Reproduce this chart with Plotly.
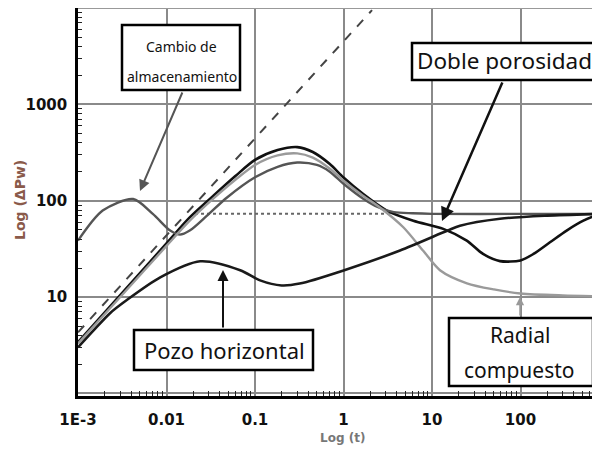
import plotly.graph_objects as go

# ---------------- data ----------------
t_doble = [0.001, 0.003, 0.01, 0.0183, 0.0337, 0.06, 0.1, 0.18, 0.3, 0.45, 0.7, 1.0, 1.67, 3.08, 6.15, 13.4,
           24.7, 37.7, 58.6, 100, 140, 215, 332, 513, 790]
v_doble = [3.4, 10.5, 36, 67, 112, 180, 265, 335, 360, 320, 240, 174, 117, 79, 62, 51,
           38.5, 28, 23.6, 24, 28, 37, 49, 62, 73]

t_radial = [0.001, 0.003, 0.01, 0.0183, 0.0337, 0.06, 0.1, 0.18, 0.3, 0.45, 0.7, 1.0, 1.67, 2.58, 4.74, 8,
            12.3, 24.8, 50, 100, 300, 790]
v_radial = [3.3, 10, 34, 62, 105, 165, 235, 295, 310, 280, 215, 161, 112, 85, 53, 30,
            19, 13.9, 12, 10.9, 10.4, 10.2]

t_alm = [0.001, 0.0019, 0.0042, 0.007, 0.011, 0.0142, 0.0183, 0.0287, 0.0483, 0.1, 0.18, 0.3, 0.5, 0.7, 1.0,
         1.67, 2.5, 3.7, 6, 10, 100, 790]
v_alm = [38.5, 79, 104, 73, 49, 44.5, 49, 70, 108, 175, 225, 249, 235, 200, 150,
         105, 85, 76, 74, 73, 73, 73]

t_pozo = [0.001, 0.0015, 0.0023, 0.0035, 0.0085, 0.024, 0.068, 0.114, 0.2, 0.32, 1.0, 4.35, 15, 20.7,
          58.6, 200, 790]
v_pozo = [3.0, 4.5, 6.8, 9.2, 16, 23.5, 19, 14.9, 13.2, 13.8, 18.9, 30.4, 49, 55,
          65, 70, 73]

t_unit = [0.001, 2.1]
v_unit = [4.3, 9500]

t_flat = [0.021, 3.5]
v_flat = [73, 73]

x_labelalias = {"0.001": "1E-3"}
y_labelalias = {"1": " ", "10k": " "}

# ---------------- figure ----------------
OFF = 8                      # page body margin of the browser
W, H = 592, 447
L, R, T, B = 70, 0, 0, 59
PW, PH = W - L - R, H - T - B


def px(x):
    return (x - OFF - L) / PW


def py(y):
    return (T + PH - (y - OFF)) / PH


fig = go.Figure()

fig.add_trace(go.Scatter(x=t_unit, y=v_unit, mode="lines",
                         line=dict(color="#444444", width=2, dash="dash")))
fig.add_trace(go.Scatter(x=t_flat, y=v_flat, mode="lines",
                         line=dict(color="#666666", width=2, dash="dot")))
fig.add_trace(go.Scatter(x=t_doble, y=v_doble, mode="lines",
                         line=dict(color="#111111", width=2.6, shape="spline", smoothing=0.8)))
fig.add_trace(go.Scatter(x=t_alm, y=v_alm, mode="lines",
                         line=dict(color="#555555", width=2.4, shape="spline", smoothing=0.8)))
fig.add_trace(go.Scatter(x=t_radial, y=v_radial, mode="lines",
                         line=dict(color="#9a9a9a", width=2.4, shape="spline", smoothing=0.8)))
fig.add_trace(go.Scatter(x=t_pozo, y=v_pozo, mode="lines",
                         line=dict(color="#1a1a1a", width=2.6, shape="spline", smoothing=0.8)))

tickfont = dict(family="DejaVu Sans", size=15, color="#111", weight="bold")

fig.update_xaxes(type="log", range=[-3, 2.898], tickmode="linear", tick0=0, dtick=1,
                 labelalias=x_labelalias,
                 showgrid=True, gridcolor="#8a8a8a", gridwidth=1.5,
                 showline=True, linecolor="black", linewidth=2.5,
                 ticks="inside", ticklen=6, tickwidth=1, tickcolor="#8a8a8a", ticklabelstandoff=8,
                 minor=dict(ticks="inside", ticklen=5, tickwidth=1, tickcolor="#222", showgrid=False),
                 tickfont=tickfont, zeroline=False)
fig.update_yaxes(type="log", range=[-0.027, 4.0], tickmode="linear", tick0=0, dtick=1,
                 labelalias=y_labelalias,
                 showgrid=True, gridcolor="#8a8a8a", gridwidth=1.5,
                 showline=True, linecolor="black", linewidth=2.5,
                 ticks="inside", ticklen=6, tickwidth=1, tickcolor="#8a8a8a", ticklabelstandoff=5,
                 minor=dict(ticks="inside", ticklen=4, tickwidth=1, tickcolor="#222", showgrid=False),
                 tickfont=tickfont, zeroline=False)

shapes = [dict(type="line", xref="paper", yref="paper", x0=0, x1=1, y0=1, y1=1,
               line=dict(color="#999999", width=2), layer="above")]
annotations = []


def box(x0, y0, x1, y1):
    shapes.append(dict(type="rect", xref="paper", yref="paper",
                       x0=px(x0), x1=px(x1), y0=py(y1), y1=py(y0),
                       line=dict(color="black", width=2.5), fillcolor="white", layer="above"))


def text(s, cx, cy, size, color="#111111", family="Noto Sans", bold=False, angle=0):
    annotations.append(dict(text=s, xref="paper", yref="paper",
                            x=px(cx), y=py(cy), xanchor="center", yanchor="middle",
                            showarrow=False, textangle=angle,
                            font=dict(family=family, size=size, color=color,
                                      weight="bold" if bold else "normal")))


def arrow(x0, y0, x1, y1, color, width):
    annotations.append(dict(text="", xref="paper", yref="paper", axref="pixel", ayref="pixel",
                            x=px(x1), y=py(y1), ax=x0 - x1, ay=y0 - y1,
                            showarrow=True, arrowhead=2, arrowsize=1.1, arrowwidth=width,
                            arrowcolor=color))


# Cambio de almacenamiento
box(122, 25, 240, 90)
text("Cambio de", 181, 47, 14)
text("almacenamiento", 182, 76, 14)
arrow(183, 91, 140, 191, "#555555", 2)

# Doble porosidad
box(412, 43, 596, 80)
text("Doble porosidad", 504, 61, 22.5)
arrow(503, 81, 442, 221, "#111111", 2.5)

# Pozo horizontal
box(134, 330, 313, 370)
text("Pozo horizontal", 224, 350, 22)
arrow(223, 329, 223, 270, "#111111", 2)

# Radial compuesto
box(449, 318, 593, 386)
text("Radial", 520, 335, 21)
text("compuesto", 519, 370, 21)
arrow(520, 317, 520, 297, "#999999", 1.5)

# axis titles
text("Log (ΔPw)", 20, 200, 14, color="#8a5a4a", family="DejaVu Sans", bold=True, angle=-90)
text("Log (t)", 342, 438, 12, color="#777777", family="DejaVu Sans", bold=True)

fig.update_layout(width=W, height=H, margin=dict(l=L, r=R, t=T, b=B, pad=0),
                  paper_bgcolor="white", plot_bgcolor="white", showlegend=False,
                  shapes=shapes, annotations=annotations)

fig.write_html("out.html")
